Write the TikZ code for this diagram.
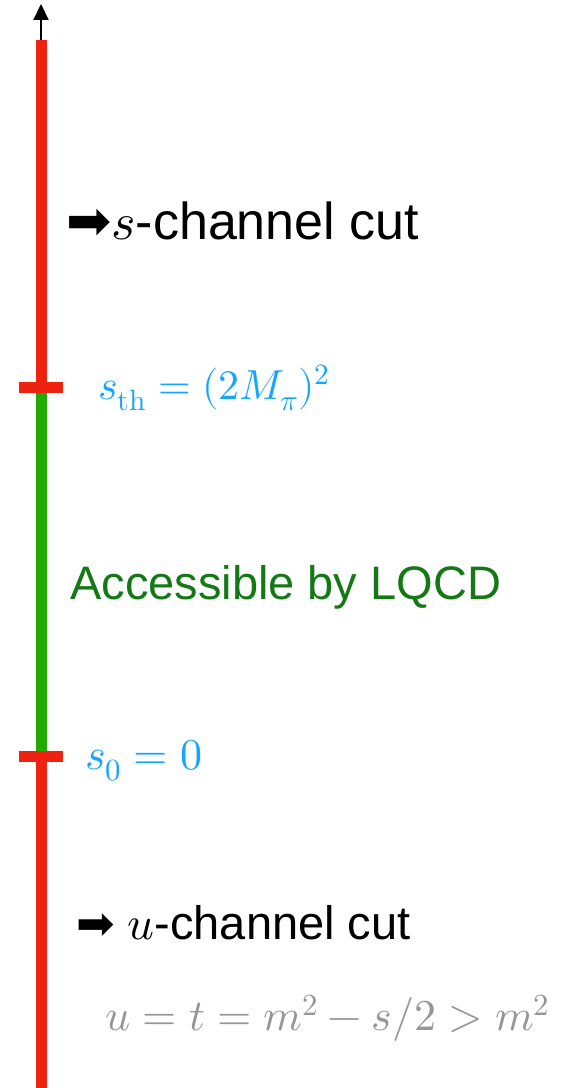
\documentclass[tikz,border=0pt]{standalone}
\usepackage{fontspec}
\usepackage{unicode-math}
\setmainfont{Liberation Sans}
\setmathfont{Latin Modern Math}
\newfontfamily\symfont{DejaVu Sans}
\usetikzlibrary{arrows.meta}
\definecolor{axred}{RGB}{238,34,17}
\definecolor{axgreen}{RGB}{34,170,0}
\definecolor{txtgreen}{RGB}{20,120,20}
\definecolor{txtblue}{RGB}{20,165,255}
\definecolor{txtgray}{RGB}{150,150,150}
\begin{document}
\begin{tikzpicture}[x=1pt,y=1pt,
  axis/.style={line width=11pt},
  tick/.style={line width=11pt,draw=axred},
  lbl/.style={anchor=base west,inner sep=0pt,font=\fontsize{52}{60}\selectfont},
  mlbl/.style={anchor=base west,inner sep=0pt,font=\fontsize{44}{52}\selectfont}]
\useasboundingbox (0,0) rectangle (564,1088);
\coordinate (bot) at (41,0);
\coordinate (top) at (41,1048);
\coordinate (tip) at (41,1084);
\coordinate (th) at (41,700);
\coordinate (z) at (41,331);
\draw[axis,axred] (bot) -- (z);
\draw[axis,axgreen] (z) -- (th);
\draw[axis,axred] (th) -- (top);
\draw[line width=2pt,-{Triangle[width=15pt,length=16pt]}] (top) -- (tip);
\draw[tick] (19,700) -- (63,700);
\draw[tick] (19,331) -- (63,331);
\node[lbl] (sc) at (66,848) {{\symfont\fontsize{54}{60}\selectfont ➡}$s$-channel cut};
\node[mlbl,text=txtblue,font=\fontsize{42}{50}\selectfont] (sth) at (98,688) {$s_{\symup{th}} = (2M_\pi)^2$};
\node[lbl,text=txtgreen,font=\fontsize{47}{56}\selectfont] (acc) at (70,488) {Accessible by LQCD};
\node[mlbl,text=txtblue] (s0) at (85,318) {$s_0 = 0$};
\node[lbl,font=\fontsize{47}{56}\selectfont] (uc) at (76,148) {{\symfont\fontsize{46}{52}\selectfont ➡} $u$-channel cut};
\node[mlbl,text=txtgray] (ut) at (105,57) {$u = t = m^2 - s/2 > m^2$};
\end{tikzpicture}
\end{document}
